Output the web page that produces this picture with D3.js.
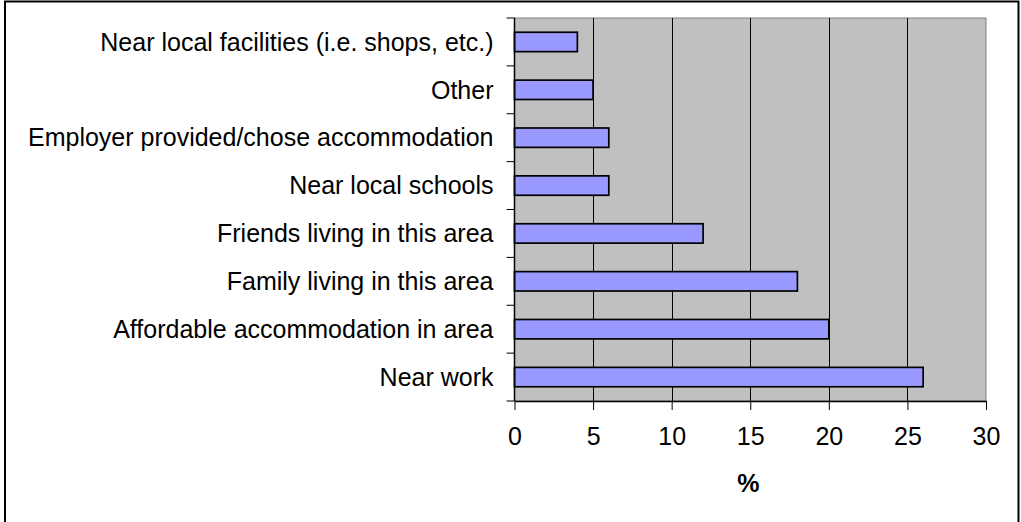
<!DOCTYPE html>
<html>
<head>
<meta charset="utf-8">
<script src="https://cdn.jsdelivr.net/npm/d3@7"></script>
<style>
  html, body { margin: 0; padding: 0; background: #fff; }
  svg { display: block; }
  text { font-family: "Liberation Sans", Arial, sans-serif; fill: #000; }
</style>
</head>
<body>
<svg id="chart" width="1021" height="522"></svg>
<script>
const categories = [
  "Near local facilities (i.e. shops, etc.)",
  "Other",
  "Employer provided/chose accommodation",
  "Near local schools",
  "Friends living in this area",
  "Family living in this area",
  "Affordable accommodation in area",
  "Near work"
];
const values = [4, 5, 6, 6, 12, 18, 20, 26];
const xTicks = [0, 5, 10, 15, 20, 25, 30];
const xTitle = "%";

const svg = d3.select("#chart");
const plot = { left: 514.5, right: 986, top: 18, bottom: 401 };
const fontSize = "25px";

// outer border
svg.append("rect")
  .attr("x", 5).attr("y", 1.5)
  .attr("width", 1013.5).attr("height", 530)
  .attr("fill", "#fff").attr("stroke", "#000").attr("stroke-width", 2);

const x = d3.scaleLinear().domain([0, 30]).range([plot.left, plot.right]);
const y = d3.scaleBand().domain(categories).range([plot.top, plot.bottom])
  .paddingInner(0.595).paddingOuter(0.2975);

// plot background
svg.append("rect")
  .attr("x", plot.left).attr("y", plot.top)
  .attr("width", plot.right - plot.left).attr("height", plot.bottom - plot.top)
  .attr("fill", "#c0c0c0").attr("stroke", "#808080").attr("stroke-width", 1);

// gridlines
svg.append("g").selectAll("line")
  .data(xTicks.filter(t => t > 0 && t < 30))
  .join("line")
  .attr("x1", d => Math.round(x(d)) + 0.5).attr("x2", d => Math.round(x(d)) + 0.5)
  .attr("y1", plot.top).attr("y2", plot.bottom)
  .attr("stroke", "#000").attr("stroke-width", 1);

// bars
svg.append("g").selectAll("rect")
  .data(categories.map((c, i) => ({ c, v: values[i] })))
  .join("rect")
  .attr("x", x(0))
  .attr("y", d => y(d.c))
  .attr("width", d => x(d.v) - x(0))
  .attr("height", y.bandwidth())
  .attr("fill", "#9999ff")
  .attr("stroke", "#000")
  .attr("stroke-width", 1.7);

// x axis
const xAxis = d3.axisBottom(x).tickValues(xTicks).tickSize(9).tickPadding(17).tickSizeOuter(0);
const gx = svg.append("g").attr("transform", `translate(0,${plot.bottom})`).call(xAxis);
gx.select(".domain").attr("stroke", "#000").attr("stroke-width", 1.5);
gx.selectAll(".tick line").attr("stroke", "#000");
gx.selectAll(".tick text").attr("font-size", fontSize).attr("font-family", "Liberation Sans, Arial, sans-serif").attr("fill", "#000");

// y axis: ticks at band boundaries
const step = y.step();
const boundaries = d3.range(categories.length + 1).map(i => plot.top + i * step);
const gy = svg.append("g");
gy.append("line")
  .attr("x1", plot.left).attr("x2", plot.left)
  .attr("y1", plot.top).attr("y2", plot.bottom)
  .attr("stroke", "#000").attr("stroke-width", 1.5);
gy.selectAll("line.tk").data(boundaries).join("line").attr("class", "tk")
  .attr("x1", plot.left - 8).attr("x2", plot.left)
  .attr("y1", d => d).attr("y2", d => d)
  .attr("stroke", "#000").attr("stroke-width", 1);
gy.selectAll("text").data(categories).join("text")
  .attr("x", 493.5)
  .attr("y", d => y(d) + y.bandwidth() / 2)
  .attr("dy", "0.35em")
  .attr("text-anchor", "end")
  .attr("font-size", fontSize)
  .text(d => d);

// x title
svg.append("text")
  .attr("x", (plot.left + plot.right) / 2 - 2)
  .attr("y", 492)
  .attr("text-anchor", "middle")
  .attr("font-size", fontSize)
  .attr("font-weight", "bold")
  .text(xTitle);
</script>
</body>
</html>
